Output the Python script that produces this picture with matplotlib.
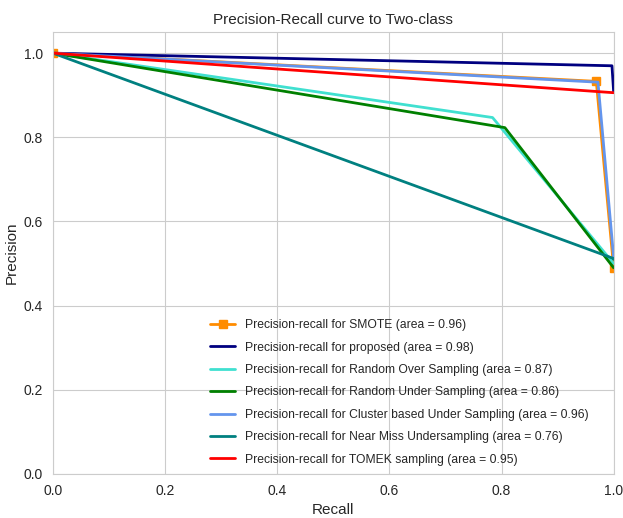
import matplotlib
matplotlib.use("Agg")
import matplotlib.pyplot as plt
import seaborn as sns

sns.set_style("whitegrid")
plt.rcParams['font.family'] = ['Liberation Sans', 'DejaVu Sans']

# recall / precision points
recall_smote = [0.0, 0.969, 1.0]
precision_smote = [1.0, 0.933, 0.49]
recall_proposed = [0.0, 0.997, 1.0]
precision_proposed = [1.0, 0.970, 0.908]
recall_ros = [0.0, 0.784, 1.0]
precision_ros = [1.0, 0.847, 0.50]
recall_rus = [0.0, 0.806, 1.0]
precision_rus = [1.0, 0.823, 0.49]
recall_cluster = [0.0, 0.972, 1.0]
precision_cluster = [1.0, 0.931, 0.515]
recall_nearmiss = [0.0, 1.0, 1.0]
precision_nearmiss = [1.0, 0.512, 0.51]
recall_tomek = [0.0, 1.0, 1.0]
precision_tomek = [1.0, 0.906, 0.906]

names = ["SMOTE", "proposed", "Random Over Sampling", "Random Under Sampling",
         "Cluster based Under Sampling", "Near Miss Undersampling", "TOMEK sampling"]
areas = [0.96, 0.98, 0.87, 0.86, 0.96, 0.76, 0.95]
colors = ['darkorange', 'navy', 'turquoise', 'green', 'cornflowerblue', 'teal', 'red']

curves = [(recall_smote, precision_smote), (recall_proposed, precision_proposed),
          (recall_ros, precision_ros), (recall_rus, precision_rus),
          (recall_cluster, precision_cluster), (recall_nearmiss, precision_nearmiss),
          (recall_tomek, precision_tomek)]

fig = plt.figure(figsize=(6.23, 5.18), dpi=100)
ax = fig.add_axes([0.085, 0.085, 0.9, 0.853])

for i, (rec, prec) in enumerate(curves):
    label = 'Precision-recall for %s (area = %0.2f)' % (names[i], areas[i])
    if i == 0:
        ax.plot(rec, prec, color=colors[i], lw=2, marker='s', markersize=6, label=label)
    else:
        ax.plot(rec, prec, color=colors[i], lw=2, label=label)

ax.set_xlim([0.0, 1.0])
ax.set_ylim([0.0, 1.05])
ax.set_xlabel('Recall', fontsize=11)
ax.set_ylabel('Precision', fontsize=11)
ax.set_title('Precision-Recall curve to Two-class', fontsize=11)
ax.tick_params(labelsize=10)
ax.legend(loc="lower left", bbox_to_anchor=(0.2715, 0.008), borderaxespad=0,
          frameon=False, fontsize=8.7, labelspacing=0.86, handlelength=2.1)

plt.savefig('out.png', dpi=100)
